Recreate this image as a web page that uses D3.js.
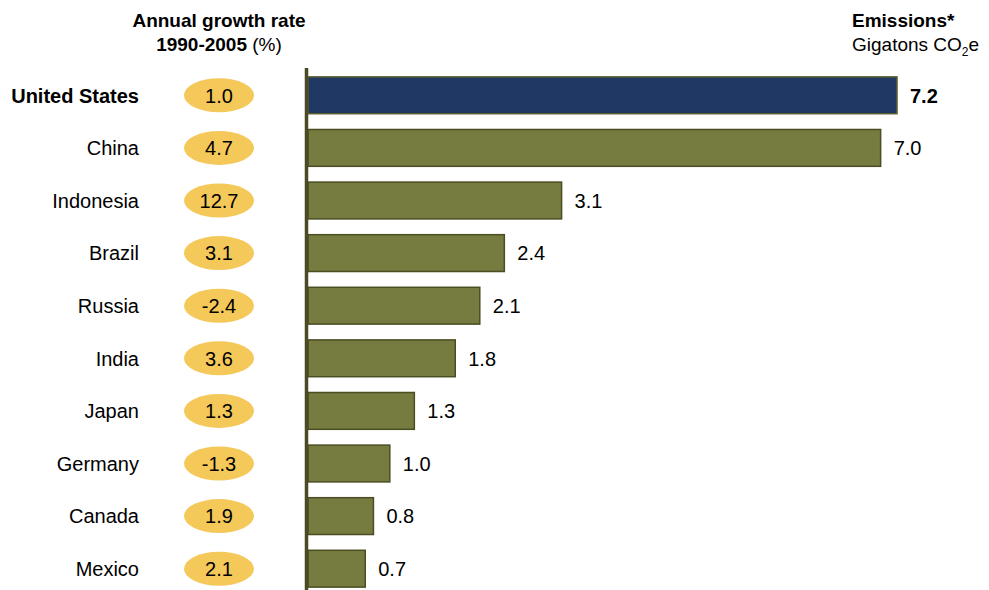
<!DOCTYPE html>
<html>
<head>
	<meta charset="utf-8">
	<title>Emissions</title>
	<script src="https://d3js.org/d3.v7.min.js"></script>
	<style>
		body { margin: 0; background: #fff; }
		text { font-family: "Liberation Sans", Arial, sans-serif; fill: #000; }
	</style>
</head>
<body>
	<script type="text/javascript">
		var width = 989
		var height = 590

		var countries = ["United States", "China", "Indonesia", "Brazil", "Russia", "India", "Japan", "Germany", "Canada", "Mexico"]
		var emissions = [7.2, 7.0, 3.1, 2.4, 2.1, 1.8, 1.3, 1.0, 0.8, 0.7]
		var growth = ["1.0", "4.7", "12.7", "3.1", "-2.4", "3.6", "1.3", "-1.3", "1.9", "2.1"]

		var rows = countries.map(function(c, i) {
			return {country: c, value: emissions[i], growth: growth[i], i: i}
		})

		var svg = d3.select("body").append("svg")
			.attr("width", width)
			.attr("height", height)

		var x = d3.scaleLinear().domain([0, 7.2]).range([308, 897])
		var y = d3.scaleBand().domain(countries).range([69, 595]).paddingInner(0.3).paddingOuter(0.15)

		// headers
		svg.append("text").attr("x", 219).attr("y", 27).attr("text-anchor", "middle")
			.style("font-size", "19px").style("font-weight", "bold").text("Annual growth rate")
		var h2 = svg.append("text").attr("x", 219).attr("y", 51).attr("text-anchor", "middle")
			.style("font-size", "19px")
		h2.append("tspan").style("font-weight", "bold").text("1990-2005")
		h2.append("tspan").text(" (%)")

		svg.append("text").attr("x", 852).attr("y", 27)
			.style("font-size", "19px").style("font-weight", "bold").text("Emissions*")
		var g2 = svg.append("text").attr("x", 852).attr("y", 51).style("font-size", "19px")
		g2.append("tspan").text("Gigatons CO")
		g2.append("tspan").attr("dy", 5).style("font-size", "12px").text("2")
		g2.append("tspan").attr("dy", -5).text("e")

		// bars
		svg.selectAll("rect.bar")
			.data(rows)
			.enter()
			.append("rect")
			.attr("class", "bar")
			.attr("x", x(0))
			.attr("y", d => y(d.country))
			.attr("width", d => x(d.value) - x(0))
			.attr("height", y.bandwidth())
			.attr("fill", d => d.i == 0 ? "#1f3864" : "#767b3f")
			.attr("stroke", d => d.i == 0 ? "#5a5e2c" : "#4b4e22")
			.attr("stroke-width", 1.5)

		// axis line
		svg.append("line")
			.attr("x1", 306.5).attr("x2", 306.5)
			.attr("y1", 68).attr("y2", height)
			.attr("stroke", "#4b4a24")
			.attr("stroke-width", 3.5)

		// value labels
		svg.selectAll("text.val")
			.data(rows)
			.enter()
			.append("text")
			.attr("class", "val")
			.attr("x", d => x(d.value) + 13)
			.attr("y", d => y(d.country) + y.bandwidth() / 2)
			.attr("dy", "0.36em")
			.style("font-size", "20px")
			.style("font-weight", d => d.i == 0 ? "bold" : "normal")
			.text(d => d.value.toFixed(1))

		// country labels
		svg.selectAll("text.country")
			.data(rows)
			.enter()
			.append("text")
			.attr("class", "country")
			.attr("x", 139)
			.attr("y", d => y(d.country) + y.bandwidth() / 2)
			.attr("dy", "0.36em")
			.attr("text-anchor", "end")
			.style("font-size", "20px")
			.style("font-weight", d => d.i == 0 ? "bold" : "normal")
			.text(d => d.country)

		// growth ellipses
		svg.selectAll("ellipse")
			.data(rows)
			.enter()
			.append("ellipse")
			.attr("cx", 219)
			.attr("cy", d => y(d.country) + y.bandwidth() / 2)
			.attr("rx", 35)
			.attr("ry", 17)
			.attr("fill", "#f5c85a")

		svg.selectAll("text.growth")
			.data(rows)
			.enter()
			.append("text")
			.attr("class", "growth")
			.attr("x", 219)
			.attr("y", d => y(d.country) + y.bandwidth() / 2)
			.attr("dy", "0.36em")
			.attr("text-anchor", "middle")
			.style("font-size", "20px")
			.text(d => d.growth)
	</script>
</body>
</html>
